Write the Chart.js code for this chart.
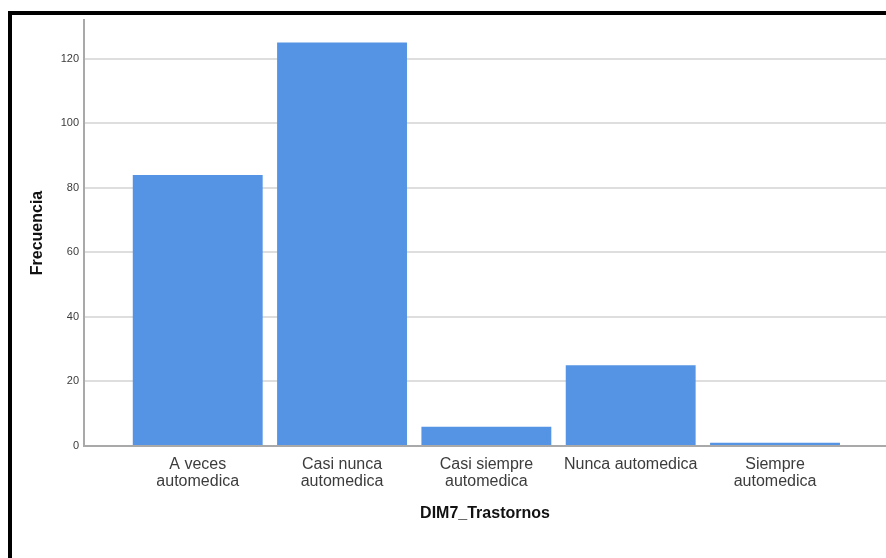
<!DOCTYPE html>
<html lang="es">
<head>
<meta charset="utf-8">
<script src="https://cdn.jsdelivr.net/npm/chart.js"></script>
<style>
  body { margin: 0; background: #fff; }
  #wrap { position: relative; width: 886px; height: 558px; overflow: hidden; }
  #frame { position: absolute; left: 8px; top: 11px; width: 1000px; height: 700px; border-left: 4px solid #000; border-top: 4px solid #000; pointer-events: none; }
  canvas { position: absolute; left: 0; top: 0; }
</style>
</head>
<body>
<div id="wrap">
  <canvas id="chart" width="886" height="558"></canvas>
  <div id="frame"></div>
</div>
<script>
// datos
const categories = [
  ['A veces', 'automedica'],
  ['Casi nunca', 'automedica'],
  ['Casi siempre', 'automedica'],
  'Nunca automedica',
  ['Siempre', 'automedica']
];
const frecuencia = [84, 125, 6, 25, 1];
const yTicks = [0, 20, 40, 60, 80, 100, 120];

const barColor = '#5594e4';
const axisColor = '#a9a9a9';
const gridColor = '#dedede';
const textColor = '#3c3c3c';

new Chart(document.getElementById('chart'), {
  type: 'bar',
  data: {
    datasets: [{
      label: 'Frecuencia',
      data: frecuencia.map((v, i) => ({ x: i + 1, y: v })),
      backgroundColor: barColor,
      borderWidth: 0,
      barPercentage: 0.9,
      categoryPercentage: 1
    }]
  },
  options: {
    responsive: false,
    animation: false,
    layout: { padding: { top: 20, right: 0, bottom: 0, left: 0 } },
    plugins: { legend: { display: false }, tooltip: { enabled: false } },
    scales: {
      x: {
        type: 'linear',
        offset: false,
        min: 0.212,
        max: 5.769,
        afterBuildTicks: s => { s.ticks = categories.map((c, i) => ({ value: i + 1 })); },
        afterFit: s => { s.height = 112; },
        grid: { display: false, offset: false },
        border: { display: true, color: axisColor, width: 2 },
        ticks: {
          autoSkip: false,
          maxRotation: 0,
          padding: 2,
          color: textColor,
          font: { family: '"Liberation Sans", Arial, sans-serif', size: 16, lineHeight: 1.05 },
          callback: (v) => categories[Math.round(v) - 1]
        },
        title: {
          display: true,
          text: 'DIM7_Trastornos',
          color: '#111',
          font: { family: '"Liberation Sans", Arial, sans-serif', size: 16, weight: 'bold' },
          padding: { top: 0, bottom: 35 }
        }
      },
      y: {
        min: 0,
        max: 132,
        afterBuildTicks: s => { s.ticks = yTicks.map(v => ({ value: v })); },
        afterFit: s => { s.width = 84; },
        grid: {
          drawTicks: false,
          lineWidth: 2,
          color: c => (c.tick && c.tick.value === 0) ? 'rgba(0,0,0,0)' : gridColor
        },
        border: { display: true, color: axisColor, width: 2 },
        ticks: {
          padding: 5,
          color: textColor,
          font: { family: '"Liberation Sans", Arial, sans-serif', size: 11 }
        },
        title: {
          display: true,
          text: 'Frecuencia',
          color: '#111',
          font: { family: '"Liberation Sans", Arial, sans-serif', size: 16, weight: 'bold' },
          padding: { top: 28, bottom: 0 }
        }
      }
    }
  }
});
</script>
</body>
</html>
